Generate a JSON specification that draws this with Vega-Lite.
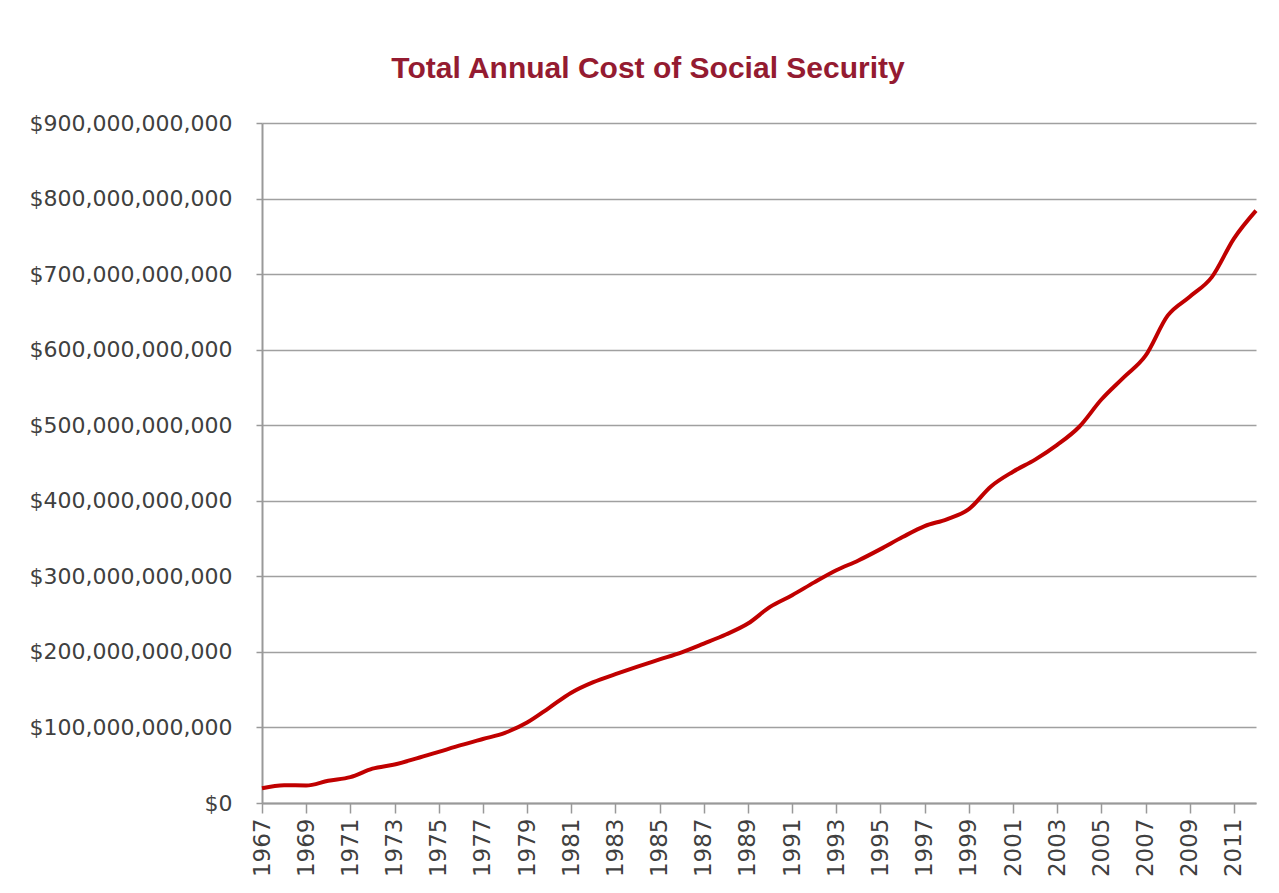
{
  "$schema": "https://vega.github.io/schema/vega-lite/v6.json",
  "autosize": "none",
  "width": 994,
  "height": 680,
  "padding": {"left": 262, "top": 123, "right": 23, "bottom": 90},
  "background": "white",
  "title": {
    "text": "Total Annual Cost of Social Security",
    "font": "Liberation Sans",
    "fontSize": 30,
    "fontWeight": "bold",
    "color": "#941B31",
    "anchor": "middle",
    "frame": "group",
    "dx": -111,
    "baseline": "alphabetic",
    "offset": 4
  },
  "data": {
    "values": [
      {"year": 1967, "cost": 19500000000},
      {"year": 1968, "cost": 23500000000},
      {"year": 1969, "cost": 23200000000},
      {"year": 1970, "cost": 29500000000},
      {"year": 1971, "cost": 34200000000},
      {"year": 1972, "cost": 45400000000},
      {"year": 1973, "cost": 51000000000},
      {"year": 1974, "cost": 59000000000},
      {"year": 1975, "cost": 67700000000},
      {"year": 1976, "cost": 76500000000},
      {"year": 1977, "cost": 84700000000},
      {"year": 1978, "cost": 92800000000},
      {"year": 1979, "cost": 106500000000},
      {"year": 1980, "cost": 126000000000},
      {"year": 1981, "cost": 146000000000},
      {"year": 1982, "cost": 160000000000},
      {"year": 1983, "cost": 170500000000},
      {"year": 1984, "cost": 180500000000},
      {"year": 1985, "cost": 190000000000},
      {"year": 1986, "cost": 199500000000},
      {"year": 1987, "cost": 211000000000},
      {"year": 1988, "cost": 223000000000},
      {"year": 1989, "cost": 237500000000},
      {"year": 1990, "cost": 259500000000},
      {"year": 1991, "cost": 275000000000},
      {"year": 1992, "cost": 292000000000},
      {"year": 1993, "cost": 308000000000},
      {"year": 1994, "cost": 321000000000},
      {"year": 1995, "cost": 336000000000},
      {"year": 1996, "cost": 352000000000},
      {"year": 1997, "cost": 366500000000},
      {"year": 1998, "cost": 375500000000},
      {"year": 1999, "cost": 389000000000},
      {"year": 2000, "cost": 419000000000},
      {"year": 2001, "cost": 438500000000},
      {"year": 2002, "cost": 454500000000},
      {"year": 2003, "cost": 474000000000},
      {"year": 2004, "cost": 498000000000},
      {"year": 2005, "cost": 534000000000},
      {"year": 2006, "cost": 563000000000},
      {"year": 2007, "cost": 592000000000},
      {"year": 2008, "cost": 645000000000},
      {"year": 2009, "cost": 670000000000},
      {"year": 2010, "cost": 696000000000},
      {"year": 2011, "cost": 747000000000},
      {"year": 2012, "cost": 784000000000}
    ]
  },
  "mark": {
    "type": "line",
    "color": "#C00000",
    "strokeWidth": 4,
    "interpolate": "monotone"
  },
  "encoding": {
    "x": {
      "field": "year",
      "type": "quantitative",
      "scale": {"domain": [1967, 2012], "nice": false, "zero": false},
      "axis": {
        "title": null,
        "values": [1967, 1969, 1971, 1973, 1975, 1977, 1979, 1981, 1983, 1985, 1987, 1989, 1991, 1993, 1995, 1997, 1999, 2001, 2003, 2005, 2007, 2009, 2011],
        "format": "d",
        "labelAngle": 270,
        "labelFont": "DejaVu Sans",
        "labelFontSize": 23,
        "labelColor": "#404040",
        "labelPadding": 5,
        "tickSize": 10,
        "tickColor": "#999999",
        "tickWidth": 1.5,
        "domainColor": "#999999",
        "domainWidth": 2,
        "grid": false,
        "labelOverlap": false,
        "labelFlush": false
      }
    },
    "y": {
      "field": "cost",
      "type": "quantitative",
      "scale": {"domain": [0, 900000000000], "nice": false},
      "axis": {
        "title": null,
        "values": [0, 100000000000, 200000000000, 300000000000, 400000000000, 500000000000, 600000000000, 700000000000, 800000000000, 900000000000],
        "labelExpr": "'$' + format(datum.value, ',')",
        "labelFont": "DejaVu Sans",
        "labelFontSize": 22,
        "labelLimit": 0,
        "labelColor": "#404040",
        "labelPadding": 24,
        "tickSize": 6,
        "tickColor": "#999999",
        "tickWidth": 1.5,
        "domainColor": "#999999",
        "domainWidth": 2,
        "grid": true,
        "gridColor": "#a0a0a0",
        "gridWidth": 1.5,
        "labelOverlap": false,
        "labelFlush": false
      }
    }
  },
  "config": {
    "view": {"stroke": null}
  }
}
